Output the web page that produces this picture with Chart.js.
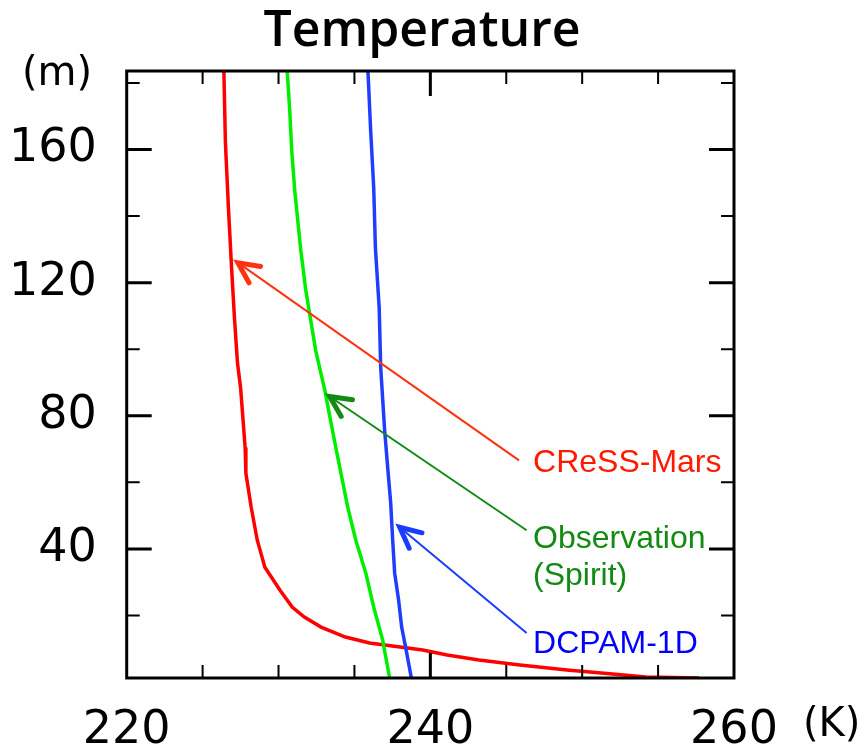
<!DOCTYPE html>
<html>
<head>
<meta charset="utf-8">
<script src="https://cdn.jsdelivr.net/npm/chart.js@4.4.1/dist/chart.umd.min.js"></script>
<style>
  html, body { margin: 0; padding: 0; background: #fff; }
  #wrap { width: 863px; height: 747px; }
</style>
</head>
<body>
<div id="wrap"><canvas id="myChart" width="863" height="747"></canvas></div>
<script>
// heights (m) and temperatures (K)
const cressHeight = [183.6, 162.3, 142.5, 125.1, 109.2, 95.7, 88.5, 82.5, 70.5, 62.7, 52.5, 42.6, 34.5, 27.6, 22.5, 19.5, 16.5, 13.5, 11.7, 9.6, 8.1, 6.6, 5.1, 3.6, 2.4, 1.5, 1.2];
const cressTemp = [226.4, 226.5, 226.7, 226.9, 227.1, 227.3, 227.5, 227.6, 227.8, 227.85, 228.2, 228.6, 229.1, 230.1, 230.9, 231.7, 232.8, 234.4, 236.0, 239.5, 241.1, 243.2, 245.9, 249.0, 252.0, 254.2, 257.7];

const obsHeight = [183.6, 171.6, 159.6, 147.6, 129.6, 117.6, 99.6, 87.6, 70.5, 52.5, 42.6, 32.7, 22.5, 12.6, 1.2];
const obsTemp = [230.57, 230.74, 230.87, 231.07, 231.47, 231.80, 232.45, 233.05, 233.77, 234.56, 235.09, 235.75, 236.27, 236.86, 237.32];

const dcpamHeight = [183.6, 165.6, 148.5, 130.5, 112.5, 94.5, 75.6, 64.5, 53.7, 42.6, 32.7, 24.6, 16.5, 10.5, 1.2];
const dcpamTemp = [235.89, 236.07, 236.27, 236.38, 236.63, 236.73, 236.99, 237.19, 237.39, 237.52, 237.65, 237.91, 238.11, 238.37, 238.75];

// axis ticks
const xMajorTicks = [240];
const xMinorTicks = [225, 230, 235, 245, 250, 255];
const xLabels = [220, 240, 260];
const yMajorTicks = [40, 80, 120, 160];
const yMinorTicks = [20, 60, 100, 140, 180];

// annotation arrows: tail -> tip, in (K, m)
const arrowNames = ['CReSS-Mars', 'Observation', 'DCPAM-1D'];
const arrowTail = [[245.84, 66.6], [246.34, 45.6], [246.34, 14.7]];
const arrowTip = [[227.32, 126.0], [233.37, 85.8], [237.98, 46.5]];

function pts(xs, ys) {
    return xs.map((x, i) => ({ x: x, y: ys[i] }));
}

const frameAndNotes = {
    id: 'frameAndNotes',
    afterDatasetsDraw(chart) {
        const ctx = chart.ctx;
        const a = chart.chartArea;
        const xs = chart.scales.x;
        const ys = chart.scales.y;
        ctx.save();

        // arrows
        const arrowCol = ['#ff3311', '#138a13', '#1a3cff'];
        for (let i = 0; i < arrowTail.length; i++) {
            const x0 = xs.getPixelForValue(arrowTail[i][0]);
            const y0 = ys.getPixelForValue(arrowTail[i][1]);
            const x1 = xs.getPixelForValue(arrowTip[i][0]);
            const y1 = ys.getPixelForValue(arrowTip[i][1]);
            ctx.strokeStyle = arrowCol[i];
            ctx.lineWidth = 2;
            ctx.beginPath();
            ctx.moveTo(x0, y0);
            ctx.lineTo(x1, y1);
            ctx.stroke();
            const ang = Math.atan2(y0 - y1, x0 - x1);
            ctx.lineWidth = 5;
            ctx.lineCap = 'round';
            ctx.beginPath();
            ctx.moveTo(x1 + 23 * Math.cos(ang - 0.45), y1 + 23 * Math.sin(ang - 0.45));
            ctx.lineTo(x1, y1);
            ctx.lineTo(x1 + 23 * Math.cos(ang + 0.45), y1 + 23 * Math.sin(ang + 0.45));
            ctx.stroke();
            ctx.lineCap = 'butt';
        }

        // labels of the arrows
        ctx.font = '32px "Liberation Sans", Arial, sans-serif';
        ctx.textAlign = 'left';
        ctx.textBaseline = 'alphabetic';
        const textCol = ['#ff1a00', '#138a13', '#0000ff'];
        const lx = xs.getPixelForValue(arrowTail[0][0]) + 14;
        ctx.fillStyle = textCol[0];
        ctx.fillText(arrowNames[0], lx, ys.getPixelForValue(arrowTail[0][1]) + 12);
        ctx.fillStyle = textCol[1];
        ctx.fillText(arrowNames[1], lx, ys.getPixelForValue(arrowTail[1][1]) + 18);
        ctx.fillText('(Spirit)', lx, ys.getPixelForValue(arrowTail[1][1]) + 55);
        ctx.fillStyle = textCol[2];
        ctx.fillText(arrowNames[2], lx, ys.getPixelForValue(arrowTail[2][1]) + 20);

        // frame
        ctx.strokeStyle = '#000';
        ctx.lineWidth = 3;
        ctx.strokeRect(a.left, a.top, a.right - a.left, a.bottom - a.top);

        // inward tick marks on all four sides
        function xTick(v, len, w) {
            const p = xs.getPixelForValue(v);
            ctx.lineWidth = w;
            ctx.beginPath();
            ctx.moveTo(p, a.bottom); ctx.lineTo(p, a.bottom - len);
            ctx.moveTo(p, a.top); ctx.lineTo(p, a.top + len);
            ctx.stroke();
        }
        function yTick(v, len, w) {
            const p = ys.getPixelForValue(v);
            ctx.lineWidth = w;
            ctx.beginPath();
            ctx.moveTo(a.left, p); ctx.lineTo(a.left + len, p);
            ctx.moveTo(a.right, p); ctx.lineTo(a.right - len, p);
            ctx.stroke();
        }
        xMajorTicks.forEach(v => xTick(v, 25, 3));
        xMinorTicks.forEach(v => xTick(v, 13, 2));
        yMajorTicks.forEach(v => yTick(v, 25, 3));
        yMinorTicks.forEach(v => yTick(v, 13, 2));

        // title and units
        ctx.fillStyle = '#000';
        ctx.font = '600 50px "Open Sans", sans-serif';
        ctx.textAlign = 'center';
        ctx.fillText('Temperature', 422, 46);
        ctx.font = '40px "DejaVu Sans", sans-serif';
        ctx.fillText('(m)', 57, 85);
        ctx.textAlign = 'left';
        ctx.fillText('(K)', 803, 736);
        ctx.restore();
    }
};

const ctx = document.getElementById('myChart');
const myChart = new Chart(ctx, {
    type: 'scatter',
    data: {
        datasets: [{
            label: 'CReSS-Mars',
            data: pts(cressTemp, cressHeight),
            borderColor: '#ff0000',
            order: 2
        }, {
            label: 'Observation (Spirit)',
            data: pts(obsTemp, obsHeight),
            borderColor: '#00ee00',
            order: 1
        }, {
            label: 'DCPAM-1D',
            data: pts(dcpamTemp, dcpamHeight),
            borderColor: '#1f3dff',
            order: 0
        }]
    },
    options: {
        responsive: false,
        animation: false,
        showLine: true,
        elements: {
            point: { radius: 0 },
            line: { borderWidth: 3.5, tension: 0 }
        },
        layout: {
            padding: { top: 71, right: 129, bottom: 0, left: 0 }
        },
        plugins: {
            legend: { display: false },
            tooltip: { enabled: false }
        },
        scales: {
            x: {
                type: 'linear',
                min: 220,
                max: 260,
                grid: { display: false },
                border: { display: false },
                afterFit: function (scale) { scale.height = 69; },
                ticks: {
                    stepSize: 5,
                    autoSkip: false,
                    maxRotation: 0,
                    padding: 17,
                    color: '#000',
                    font: { family: '"DejaVu Sans", sans-serif', size: 46 },
                    callback: v => xLabels.includes(v) ? String(v) : ''
                }
            },
            y: {
                type: 'linear',
                min: 1.2,
                max: 183.6,
                grid: { display: false },
                border: { display: false },
                afterFit: function (scale) { scale.width = 126.7; },
                ticks: {
                    stepSize: 20,
                    includeBounds: false,
                    autoSkip: false,
                    padding: 22,
                    color: '#000',
                    font: { family: '"DejaVu Sans", sans-serif', size: 46 },
                    callback: v => yMajorTicks.includes(v) ? String(v) : ''
                }
            }
        }
    },
    plugins: [frameAndNotes]
});
</script>
</body>
</html>
